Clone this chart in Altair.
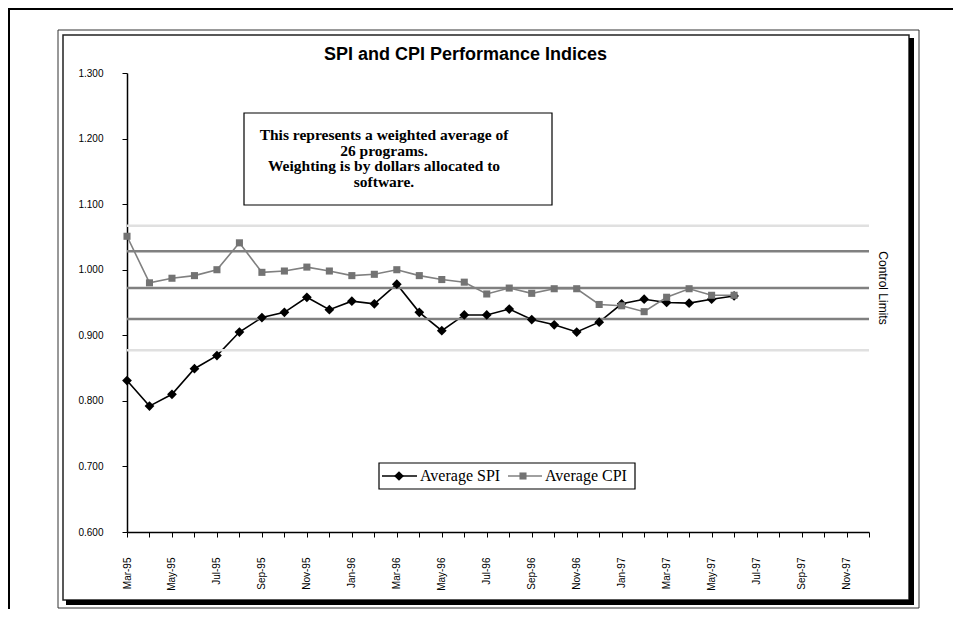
import altair as alt
import pandas as pd

# ---------------- data ----------------
months = ["Mar-95", "Apr-95", "May-95", "Jun-95", "Jul-95", "Aug-95", "Sep-95", "Oct-95",
          "Nov-95", "Dec-95", "Jan-96", "Feb-96", "Mar-96", "Apr-96", "May-96", "Jun-96",
          "Jul-96", "Aug-96", "Sep-96", "Oct-96", "Nov-96", "Dec-96", "Jan-97", "Feb-97",
          "Mar-97", "Apr-97", "May-97", "Jun-97", "Jul-97", "Aug-97", "Sep-97", "Oct-97",
          "Nov-97", "Dec-97"]

spi = [0.831, 0.792, 0.810, 0.849, 0.869, 0.905, 0.927, 0.935, 0.958, 0.939,
       0.952, 0.948, 0.978, 0.935, 0.907, 0.931, 0.931, 0.940, 0.924, 0.916,
       0.905, 0.920, 0.948, 0.955, 0.950, 0.949, 0.955, 0.960]

cpi = [1.051, 0.980, 0.987, 0.991, 1.000, 1.041, 0.996, 0.998, 1.004, 0.998,
       0.991, 0.993, 1.000, 0.991, 0.985, 0.981, 0.963, 0.972, 0.964, 0.971,
       0.971, 0.947, 0.945, 0.936, 0.958, 0.971, 0.961, 0.961]

control_limits = [1.067, 1.028, 0.972, 0.925, 0.877]
control_kind = ["outer", "inner", "inner", "inner", "outer"]

y_ticks = [0.6, 0.7, 0.8, 0.9, 1.0, 1.1, 1.2, 1.3]
series_names = ["Average SPI", "Average CPI"]
title_text = "SPI and CPI Performance Indices"
note_lines = ["This represents a weighted average of", "26 programs.",
              "Weighting is by dollars allocated to", "software."]
side_label = "Control Limits"

# ---------------- frames ----------------
W, H = 742, 459
df_spi = pd.DataFrame({"month": months[:len(spi)], "value": spi})
df_cpi = pd.DataFrame({"month": months[:len(cpi)], "value": cpi})
df_cl = pd.DataFrame({"limit": control_limits, "kind": control_kind})

xscale = alt.Scale(type="point", domain=months, padding=0)
yscale = alt.Scale(domain=[0.6, 1.3], nice=False, zero=False)

label_expr = ("indexof(['Jan','Mar','May','Jul','Sep','Nov'], slice(datum.label,0,3)) >= 0"
              " ? datum.label : ''")

x_axis = alt.Axis(title=None, labelAngle=270, labelAlign="right", labelBaseline="middle",
                  labelFont="Liberation Sans", labelFontSize=10, labelColor="black",
                  tickColor="black", tickSize=5, tickWidth=1, labelPadding=20,
                  domainColor="black", domainWidth=1.5, labelExpr=label_expr,
                  labelOverlap=False, grid=False)
y_axis = alt.Axis(title=None, values=y_ticks, format=".3f", labelFont="Liberation Sans",
                  labelFontSize=10, labelColor="black", tickColor="black", tickSize=5,
                  tickWidth=1, labelPadding=19, domainColor="black", domainWidth=1.5,
                  grid=False)

one = alt.Data(values=[{}])

def box(x1, x2, y1, y2, **kw):
    return alt.Chart(one).mark_rect(**kw).encode(
        x=alt.value(x1), x2=alt.value(x2), y=alt.value(y1), y2=alt.value(y2))

# page frame (top and left)
page_top = box(-119, 840, -65, -63, color="black")
page_left = box(-119, -117, -65, 540, color="black")

# chart area frame
outer_rect = box(-69, 792, -43, 535, filled=False, stroke="#333333", strokeWidth=1)
inner_rect = box(-64, 782, -38, 527, filled=False, stroke="#222222", strokeWidth=1.5)
shadow_r = box(782, 787, -35, 532, color="black")
shadow_b = box(-61, 787, 527, 532, color="black")

title = alt.Chart(one).mark_text(font="Liberation Sans", fontSize=18, fontWeight="bold",
                                 color="black").encode(
    x=alt.value(338.5), y=alt.value(-18.5), text=alt.value(title_text))

# control limit lines
cl = alt.Chart(df_cl).mark_rule(strokeWidth=2.5).encode(
    x=alt.value(0),
    x2=alt.value(W),
    y=alt.Y("limit:Q", scale=yscale, axis=y_axis),
    color=alt.Color("kind:N", scale=alt.Scale(domain=["outer", "inner"],
                                              range=["#e0e0e0", "#808080"]), legend=None))

spi_line = alt.Chart(df_spi).mark_line(color="black", strokeWidth=1.6).encode(
    x=alt.X("month:O", scale=xscale, axis=x_axis, sort=months),
    y=alt.Y("value:Q", scale=yscale, axis=y_axis))
spi_pts = alt.Chart(df_spi).mark_point(shape="diamond", filled=True, size=95, color="black",
                                       opacity=1).encode(
    x=alt.X("month:O", scale=xscale, sort=months),
    y=alt.Y("value:Q", scale=yscale))
cpi_line = alt.Chart(df_cpi).mark_line(color="#808080", strokeWidth=1.6).encode(
    x=alt.X("month:O", scale=xscale, sort=months),
    y=alt.Y("value:Q", scale=yscale))
cpi_pts = alt.Chart(df_cpi).mark_point(shape="square", filled=True, size=50, color="#737373",
                                       opacity=1).encode(
    x=alt.X("month:O", scale=xscale, sort=months),
    y=alt.Y("value:Q", scale=yscale))

# note box
note_rect = box(117, 425, 40, 132, fill="white", stroke="black", strokeWidth=1.2)
note_text = alt.Chart(one).mark_text(font="Liberation Serif", fontSize=15.5, fontWeight="bold",
                                     color="black", lineHeight=15.5, baseline="middle",
                                     align="center").encode(
    x=alt.value(257), y=alt.value(62), text=alt.value(note_lines))

# control limits side label
side = alt.Chart(one).mark_text(font="Liberation Sans", fontSize=12, angle=90,
                                color="black").encode(
    x=alt.value(756), y=alt.value(215), text=alt.value(side_label))

# legend
leg_rect = box(252, 508, 390, 416, fill="white", stroke="black", strokeWidth=1.2)
leg_y = 403
leg_spi_line = alt.Chart(one).mark_rule(color="black", strokeWidth=1.5).encode(
    x=alt.value(255), x2=alt.value(290), y=alt.value(leg_y))
leg_spi_pt = alt.Chart(one).mark_point(shape="diamond", filled=True, size=95, color="black",
                                       opacity=1).encode(x=alt.value(272), y=alt.value(leg_y))
leg_spi_txt = alt.Chart(one).mark_text(font="Liberation Serif", fontSize=16, align="left",
                                       color="black").encode(
    x=alt.value(293), y=alt.value(leg_y), text=alt.value(series_names[0]))
leg_cpi_line = alt.Chart(one).mark_rule(color="#808080", strokeWidth=1.5).encode(
    x=alt.value(381), x2=alt.value(415), y=alt.value(leg_y))
leg_cpi_pt = alt.Chart(one).mark_point(shape="square", filled=True, size=50, color="#737373",
                                       opacity=1).encode(x=alt.value(396), y=alt.value(leg_y))
leg_cpi_txt = alt.Chart(one).mark_text(font="Liberation Serif", fontSize=16, align="left",
                                       color="black").encode(
    x=alt.value(418), y=alt.value(leg_y), text=alt.value(series_names[1]))

chart = alt.layer(
    spi_line, cl, spi_pts, cpi_line, cpi_pts,
    page_top, page_left, outer_rect, inner_rect, shadow_r, shadow_b, title,
    note_rect, note_text, side,
    leg_rect, leg_spi_line, leg_spi_pt, leg_spi_txt, leg_cpi_line, leg_cpi_pt, leg_cpi_txt,
).resolve_scale(x="shared", y="shared").properties(
    width=W, height=H,
    autosize=alt.AutoSizeParams(type="none"),
    padding={"left": 119, "top": 65, "right": 84, "bottom": 77},
    background="white",
).configure_view(stroke=None)

chart.save("out.html", embed_options={"renderer": "svg", "actions": False})
